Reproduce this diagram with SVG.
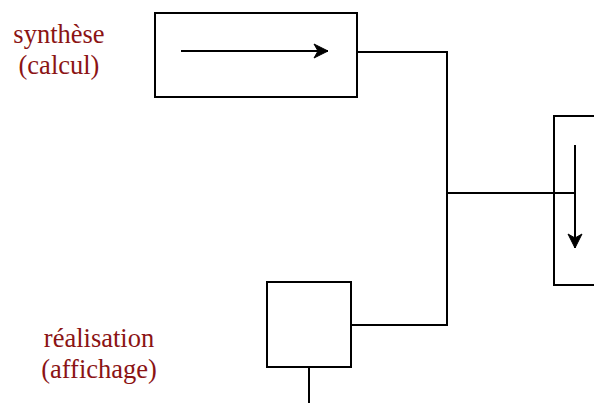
<svg xmlns="http://www.w3.org/2000/svg" width="594" height="403" viewBox="0 0 594 403">
<style>
.box{fill:none;stroke:#000;stroke-width:2}
.ln{fill:none;stroke:#000;stroke-width:2}
.lbl{font-family:"Liberation Serif",serif;font-size:26.5px;fill:#8b1414;text-anchor:middle}
</style>
<defs>
<marker id="ah" viewBox="0 0 16 16" refX="15" refY="8" markerWidth="16" markerHeight="16" markerUnits="userSpaceOnUse" orient="auto">
<path d="M1,1 L15,8 L1,15 L5,8 Z" fill="#000" stroke="#000" stroke-width="1" stroke-linejoin="miter"/>
</marker>
</defs>
<rect width="594" height="403" fill="#fff"/>
<g id="synthese">
<rect class="box" x="155" y="13" width="202" height="84"/>
<line class="ln" x1="181" y1="51" x2="328" y2="51" marker-end="url(#ah)"/>
</g>
<g id="sortie">
<rect class="box" x="554" y="116" width="50" height="169"/>
<line class="ln" x1="575" y1="145" x2="575" y2="248" marker-end="url(#ah)"/>
</g>
<g id="realisation">
<rect class="box" x="267" y="282" width="84" height="85"/>
</g>
<g id="connectors">
<polyline class="ln" points="357,52 447,52 447,325 351,325"/>
<line class="ln" x1="447" y1="193" x2="576" y2="193"/>
<line class="ln" x1="309" y1="367" x2="309" y2="403"/>
</g>
<g id="labels">
<text class="lbl" x="59" y="43">synthèse</text>
<text class="lbl" x="59" y="74">(calcul)</text>
<text class="lbl" x="99" y="347">réalisation</text>
<text class="lbl" x="99" y="378">(affichage)</text>
</g>
</svg>
